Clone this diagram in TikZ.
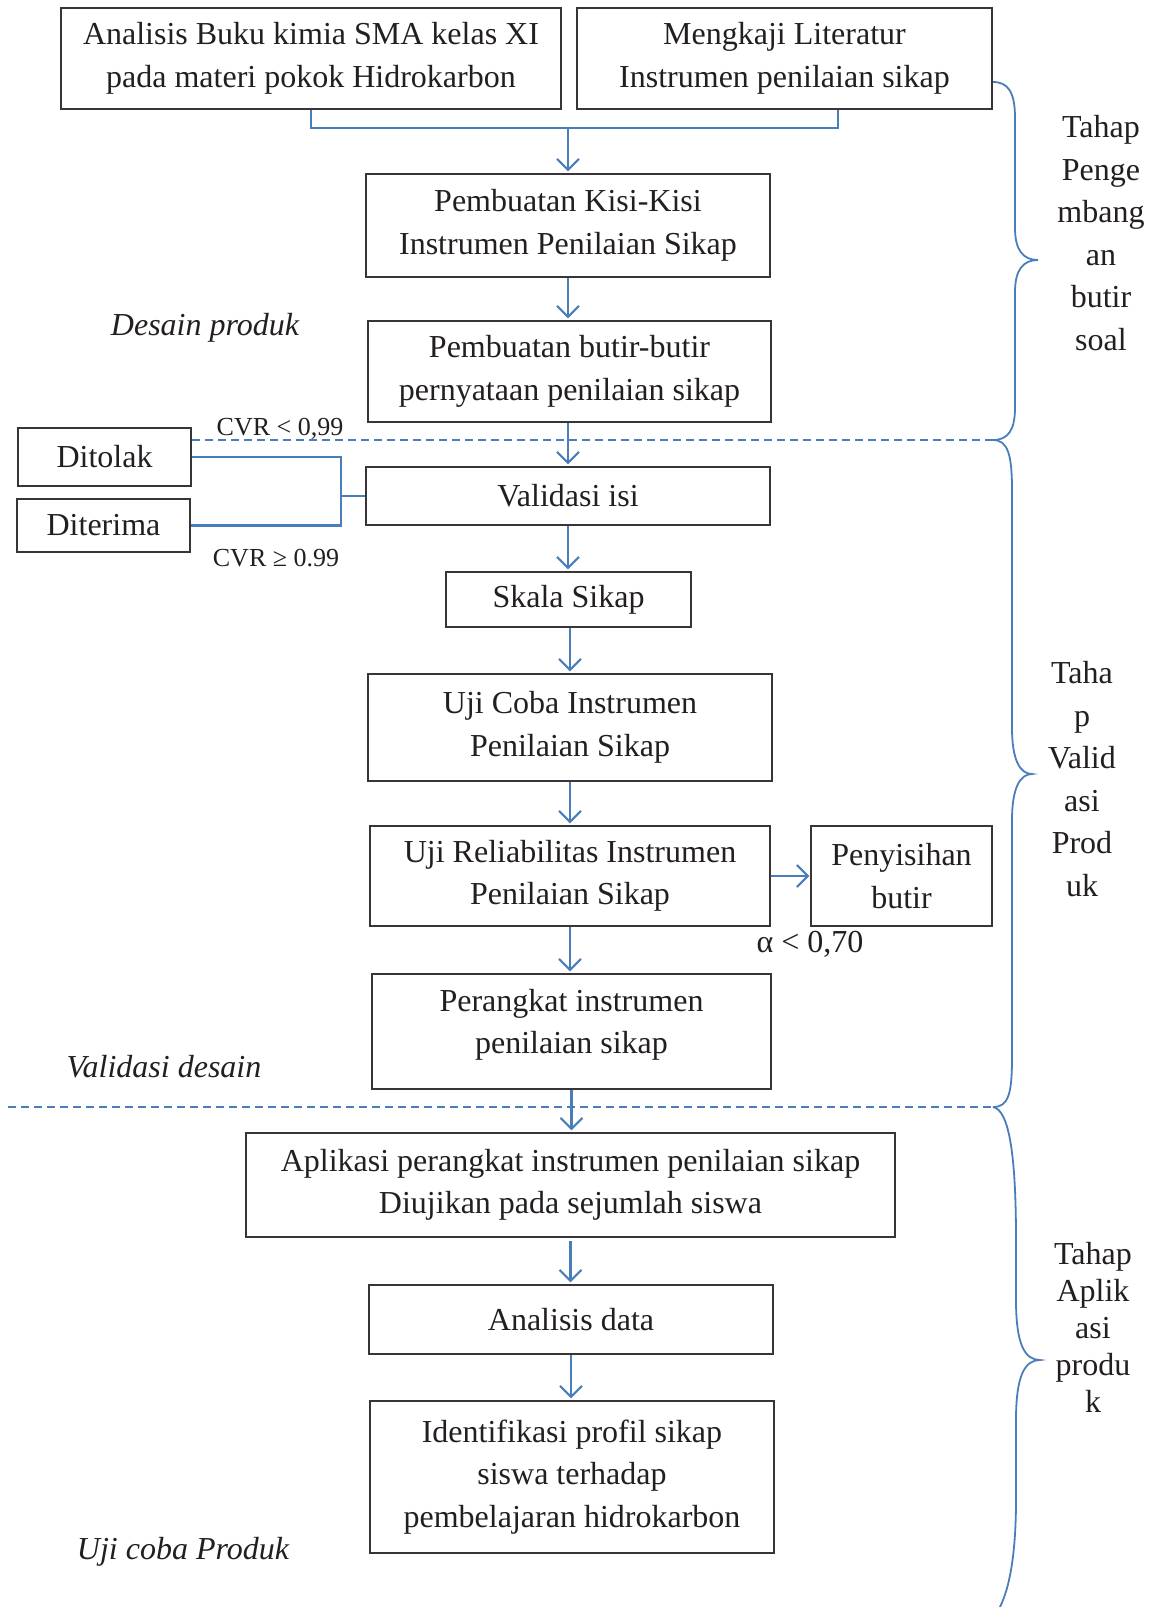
\documentclass[tikz,border=0pt]{standalone}
\usepackage{fontspec}
\setmainfont{Liberation Serif}
\usetikzlibrary{arrows.meta}
\definecolor{lblue}{HTML}{4A7EBB}
\definecolor{ink}{HTML}{231F20}
\begin{document}
\begin{tikzpicture}[x=1pt,y=-1pt,
 box/.style={draw=ink!90, line width=1.4pt, inner sep=0pt, align=center, text=ink, font=\fontsize{32}{42.5}\selectfont},
 conn/.style={draw=lblue, line width=2.1pt},
 arr/.style={conn, -{Straight Barb[length=11pt,width=22pt]}, shorten >=2pt},
 dline/.style={draw=lblue, line width=1.7pt, dash pattern=on 8pt off 5pt},
 bracepath/.style={draw=lblue, line width=1.8pt},
 lbl/.style={text=ink, font=\fontsize{32}{42.5}\selectfont, inner sep=0pt, align=center},
 small/.style={text=ink, font=\fontsize{26}{30}\selectfont, inner sep=0pt},
 ]
\clip (0,0) rectangle (1157,1607);
\fill[white] (0,0) rectangle (1157,1607);

% boxes
\node[box, minimum width=500pt, minimum height=101pt] (b1) at (311,58.5) {Analisis Buku kimia SMA kelas XI\\pada materi pokok Hidrokarbon};
\node[box, minimum width=415pt, minimum height=101pt] (b2) at (784.5,58.5) {Mengkaji Literatur\\Instrumen penilaian sikap};
\node[box, minimum width=404pt, minimum height=103pt] (b3) at (568,225.5) {Pembuatan Kisi-Kisi\\Instrumen Penilaian Sikap};
\node[box, minimum width=403pt, minimum height=101pt] (b4) at (569.5,371.5) {Pembuatan butir-butir\\pernyataan penilaian sikap};
\node[box, minimum width=404pt, minimum height=58pt] (val) at (568,496) {Validasi isi};
\node[box, minimum width=173pt, minimum height=58pt] (dtl) at (104.5,457) {Ditolak};
\node[box, minimum width=173pt, minimum height=53pt] (dtr) at (103.5,525.5) {Diterima};
\node[box, minimum width=245pt, minimum height=55pt] (skala) at (568.5,599.5) {Skala Sikap};
\node[box, minimum width=404pt, minimum height=107pt] (uji) at (570,727.5) {Uji Coba Instrumen\\Penilaian Sikap};
\node[box, minimum width=400pt, minimum height=100pt] (rel) at (570,876) {Uji Reliabilitas Instrumen\\Penilaian Sikap};
\node[box, minimum width=181pt, minimum height=100pt] (pen) at (901.5,876) {Penyisihan\\butir};
\node[box, minimum width=399pt, minimum height=115pt] (per) at (571.5,1031.5) {};
\node[lbl] (pertext) at (571.5,1025) {Perangkat instrumen\\penilaian sikap};
\node[box, minimum width=649pt, minimum height=104pt] (apl) at (570.5,1185) {Aplikasi perangkat instrumen penilaian sikap\\Diujikan pada sejumlah siswa};
\node[box, minimum width=404pt, minimum height=69pt] (ana) at (571,1319.5) {Analisis data};
\node[box, minimum width=404pt, minimum height=152pt] (idf) at (572,1477) {Identifikasi profil sikap\\siswa terhadap\\pembelajaran hidrokarbon};

% merge at top
\coordinate (mr) at (838,128);
\coordinate (mc) at (568,128);
\draw[conn] (b1.south) |- (mr) -- (mr |- b2.south);
\draw[arr] (mc) -- (b3.north);

% vertical arrows
\draw[arr] (b3.south) -- (b3.south |- b4.north);
\draw[arr] (b4.south -| val.north) -- (val.north);
\draw[arr] (val.south) -- (val.south |- skala.north);
\draw[arr] (skala.south -| uji.north) -- (uji.north);
\draw[arr] (uji.south) -- (uji.south |- rel.north);
\draw[arr] (rel.south) -- (rel.south |- per.north);
\draw[arr] (per.south) -- (per.south |- apl.north);
\draw[arr] ([yshift=-3pt]apl.south) -- (apl.south |- ana.north);
\draw[arr] (ana.south) -- (ana.south |- idf.north);
\draw[arr, shorten >=1pt] (rel.east) -- (pen.west);

% Ditolak / Diterima connector
\coordinate (j) at (341,496);
\draw[conn] (val.west) -- (j);
\draw[conn] (dtl.east) -| (j) |- (dtr.east);

% dashed separators
\coordinate (d1l) at (192,440);
\coordinate (d1r) at (993,440);
\coordinate (d2l) at (8,1107);
\coordinate (d2r) at (993,1107);
\draw[dline] (d1l) -- (d1r);
\draw[dline] (d2l) -- (d2r);

% labels
\node[small] (cvr1) at (280,429) {CVR < 0,99};
\node[small] (cvr2) at (276,558) {CVR ≥ 0.99};
\node[lbl] (alpha) at (810,944) {α < 0,70};
\node[lbl, font=\fontsize{32}{42.5}\selectfont\itshape] (lb1) at (205,328) {Desain produk};
\node[lbl, font=\fontsize{32}{42.5}\selectfont\itshape] (lb2) at (164,1067) {Validasi desain};
\node[lbl, font=\fontsize{32}{42.5}\selectfont\itshape] (lb3) at (183,1552) {Uji coba Produk};

% braces
\draw[bracepath] (993,82) .. controls (1008,82) and (1015,92) .. (1015,118) -- (1015,228) .. controls (1015,250) and (1023,260) .. (1038,260) .. controls (1023,260) and (1015,270) .. (1015,292) -- (1015,408) .. controls (1015,430) and (1008,440) .. (993,440);
\draw[bracepath] (993,440) .. controls (1008,440) and (1012,455) .. (1012,490) -- (1012,728) .. controls (1012,760) and (1020,774) .. (1032,774) .. controls (1020,774) and (1012,788) .. (1012,820) -- (1012,1058) .. controls (1012,1095) and (1008,1107) .. (993,1107);
\draw[bracepath] (993,1107) .. controls (1010,1110) and (1016,1160) .. (1016,1240) -- (1016,1300) .. controls (1016,1345) and (1025,1360) .. (1040,1360) .. controls (1025,1360) and (1016,1375) .. (1016,1420) -- (1016,1500) .. controls (1016,1570) and (1005,1600) .. (997,1612);

\node[lbl] (t1) at (1101,233) {Tahap\\Penge\\mbang\\an\\butir\\soal};
\node[lbl] (t2) at (1082,779) {Taha\\p\\Valid\\asi\\Prod\\uk};
\node[lbl, font=\fontsize{32}{37}\selectfont] (t3) at (1093,1327) {Tahap\\Aplik\\asi\\produ\\k};
\end{tikzpicture}
\end{document}
